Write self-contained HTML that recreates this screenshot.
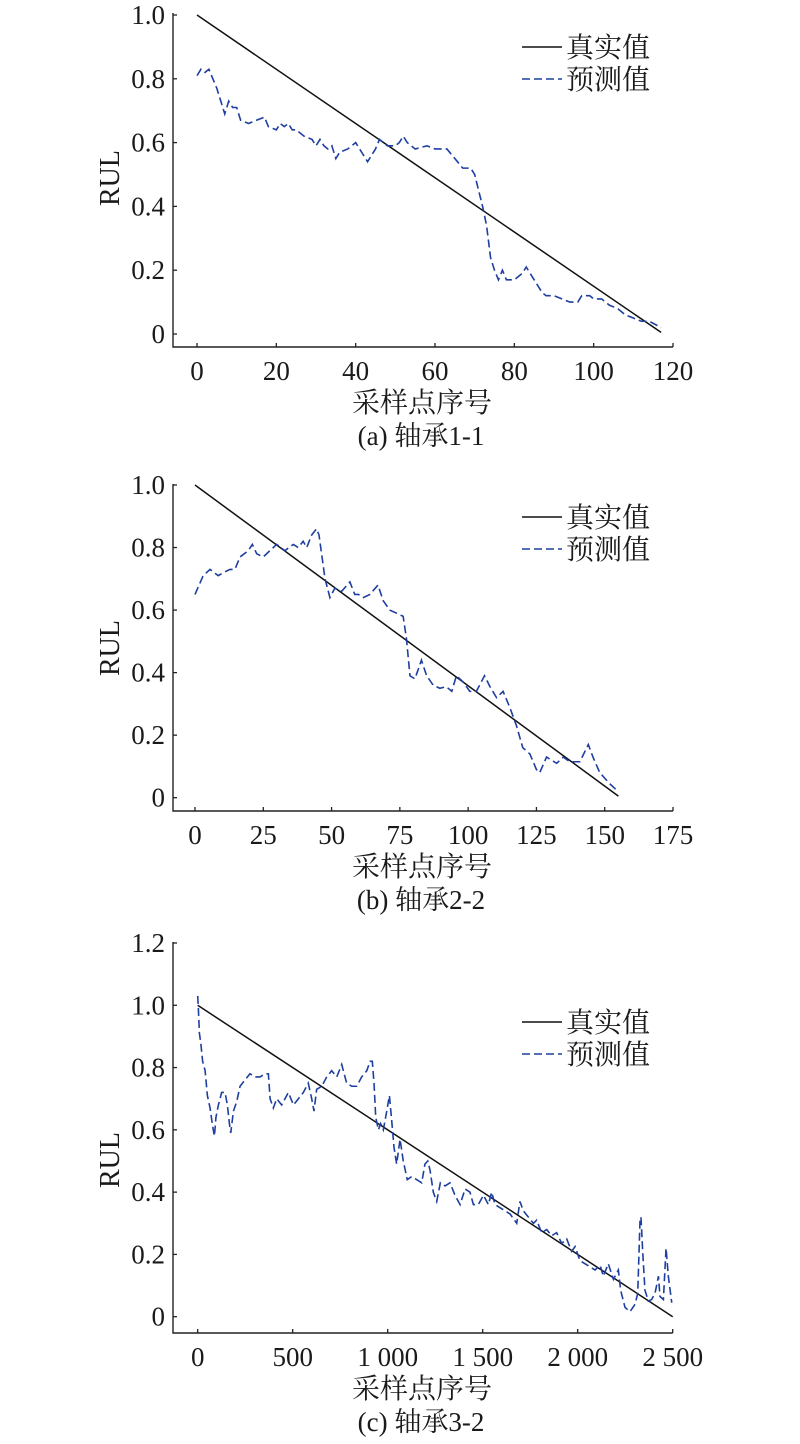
<!DOCTYPE html>
<html><head><meta charset="utf-8">
<style>
html,body{margin:0;padding:0;background:#fff;}
svg{display:block;}
text{font-family:"Liberation Serif","Noto Serif CJK SC","Noto Sans CJK SC",serif;fill:#1a1a1a;}
</style></head>
<body>
<svg id="chart" width="800" height="1444" viewBox="0 0 800 1444" xmlns="http://www.w3.org/2000/svg"></svg>
<script>
// Panel (a) data
const aXTicks = [0,20,40,60,80,100,120];
const aYTicks = [0,0.2,0.4,0.6,0.8,1.0];
const aYTickLabels = ["0","0.2","0.4","0.6","0.8","1.0"];
const aTrueX = [0,117];
const aTrueY = [1.0,0.005];
const aPredX = [0,1,2,3,5,7,8,9,10,11,13,15,17,18,20,21,22,23,24,25,27,29,30,31,32,33,34,35,36,38,40,42,43,45,46,48,50,51,52,53,55,58,60,62,63,65,67,68,69,70,72,73,74,75,76,77,78,80,82,83,84,85,87,88,90,92,94,96,97,99,100,102,104,106,108,110,112,114,117];
const aPredY = [0.81,0.83,0.82,0.83,0.77,0.69,0.73,0.71,0.71,0.67,0.66,0.67,0.68,0.65,0.64,0.66,0.65,0.66,0.64,0.64,0.62,0.61,0.59,0.61,0.59,0.58,0.59,0.55,0.57,0.58,0.60,0.56,0.54,0.58,0.61,0.59,0.59,0.60,0.62,0.60,0.58,0.59,0.58,0.58,0.58,0.55,0.52,0.52,0.52,0.50,0.40,0.34,0.24,0.20,0.17,0.20,0.17,0.17,0.19,0.21,0.19,0.17,0.13,0.12,0.12,0.11,0.10,0.10,0.12,0.12,0.11,0.11,0.09,0.08,0.06,0.05,0.04,0.04,0.02];

// Panel (b) data
const bXTicks = [0,25,50,75,100,125,150,175];
const bYTicks = [0,0.2,0.4,0.6,0.8,1.0];
const bYTickLabels = ["0","0.2","0.4","0.6","0.8","1.0"];
const bTrueX = [0,155];
const bTrueY = [1.0,0.005];
const bPredX = [0,3,5.5,8.5,10.4,12.8,14.6,16.5,19.5,21,22.6,25,27.4,29.9,32.9,36,37.8,39.6,40.9,42.7,44.5,45.4,47.6,49.4,51.2,53.7,56.7,58.5,59.8,61.6,64,67,68.9,71.3,73.8,76.2,77.4,78.7,80.5,82.9,84.8,87.2,89.6,92,94,95.7,98.2,100.6,103,106,108,110.4,112.8,115.2,117.7,120,122.6,125,126.2,128.7,132.4,134.8,137.2,140.9,144,145.7,148.2,151.8,154.9];
const bPredY = [0.65,0.71,0.73,0.71,0.72,0.73,0.73,0.77,0.79,0.81,0.78,0.77,0.79,0.81,0.79,0.81,0.80,0.82,0.80,0.84,0.86,0.84,0.70,0.64,0.67,0.66,0.69,0.65,0.65,0.64,0.65,0.68,0.63,0.60,0.59,0.58,0.51,0.39,0.38,0.44,0.39,0.36,0.35,0.355,0.34,0.39,0.37,0.34,0.34,0.39,0.355,0.32,0.34,0.29,0.23,0.16,0.14,0.09,0.08,0.13,0.11,0.13,0.115,0.115,0.17,0.13,0.08,0.045,0.02];

// Panel (c) data
const cXTicks = [0,500,1000,1500,2000,2500];
const cXTickLabels = ["0","500","1 000","1 500","2 000","2 500"];
const cYTicks = [0,0.2,0.4,0.6,0.8,1.0,1.2];
const cYTickLabels = ["0","0.2","0.4","0.6","0.8","1.0","1.2"];
const cTrueX = [0,2500];
const cTrueY = [1.0,0.0];
const cPredX = [0,3.5,9,16,26,39,51,65,79,88,96,109,126,144,156,167,174,188,205,223,249,275,302,328,354,372,381,398,416,442,477,504,530,556,582,600,612,626,653,679,705,732,758,784,811,837,863,890,907,919,928,937,951,963,977,995,1009,1021,1033,1047,1065,1082,1103,1126,1153,1179,1196,1211,1223,1240,1258,1277,1302,1328,1354,1381,1407,1433,1451,1477,1504,1530,1547,1565,1591,1618,1644,1679,1696,1714,1740,1767,1784,1810,1837,1863,1889,1916,1942,1968,1986,2012,2039,2065,2091,2118,2135,2161,2188,2214,2226,2249,2275,2302,2316,2328,2333,2342,2354,2372,2389,2407,2425,2433,2451,2465,2477,2495];
const cPredY = [1.03,0.99,0.91,0.88,0.82,0.79,0.71,0.67,0.61,0.58,0.64,0.68,0.72,0.72,0.68,0.62,0.59,0.66,0.69,0.74,0.76,0.78,0.77,0.77,0.78,0.78,0.70,0.67,0.70,0.68,0.72,0.68,0.70,0.72,0.75,0.70,0.66,0.73,0.74,0.77,0.79,0.77,0.81,0.75,0.74,0.74,0.77,0.79,0.82,0.82,0.75,0.64,0.60,0.62,0.60,0.66,0.71,0.63,0.545,0.49,0.57,0.50,0.44,0.45,0.44,0.43,0.49,0.50,0.47,0.40,0.37,0.43,0.42,0.43,0.39,0.36,0.41,0.40,0.36,0.36,0.39,0.36,0.40,0.36,0.35,0.34,0.33,0.30,0.37,0.34,0.32,0.30,0.31,0.27,0.28,0.26,0.27,0.235,0.25,0.21,0.225,0.18,0.17,0.16,0.15,0.165,0.13,0.17,0.12,0.15,0.085,0.03,0.016,0.04,0.075,0.31,0.32,0.21,0.085,0.05,0.055,0.075,0.13,0.065,0.055,0.22,0.13,0.045];

const NS = "http://www.w3.org/2000/svg";
const svg = document.getElementById("chart");
function mk(tag, attrs, parent){
  const e = document.createElementNS(NS, tag);
  for (const k in attrs) e.setAttribute(k, attrs[k]);
  (parent||svg).appendChild(e);
  return e;
}

function panel(cfg){
  const g = mk("g", {});
  
  
  const sx = v => cfg.x0px + (v - cfg.xmin) / (cfg.xmax - cfg.xmin) * (cfg.x1px - cfg.x0px);
  const sy = v => cfg.y0px - (v - 0) / (cfg.ymax - 0) * (cfg.y0px - cfg.y1px);
  const L = 173, B = cfg.bottom, T = cfg.top;
  const ax = mk("path", {d:`M${L},${T} L${L},${B} L${sx(cfg.xmax)},${B}`, fill:"none", stroke:"#222", "stroke-width":1.4}, g);
  
  
  cfg.yTicks.forEach((v,i)=>{
    const y = sy(v);
    const t = mk("line", {x1:L, y1:y, x2:L+4, y2:y, stroke:"#222", "stroke-width":1.3}, g);
    
    
    const lb = mk("text", {x:165, y:y+9, "text-anchor":"end", "font-size":27}, g);
    lb.textContent = cfg.yLabels[i];
    
    
  });
  cfg.xTicks.forEach((v,i)=>{
    const x = sx(v);
    const t = mk("line", {x1:x, y1:B, x2:x, y2:B-4, stroke:"#222", "stroke-width":1.3}, g);
    
    
    const lb = mk("text", {x:x, y:B+33, "text-anchor":"middle", "font-size":27}, g);
    lb.textContent = cfg.xLabels[i];
    
    
  });
  const tl = mk("polyline", {points: cfg.trueX.map((v,i)=>sx(v)+","+sy(cfg.trueY[i])).join(" "), fill:"none", stroke:"#111", "stroke-width":1.5}, g);
  
  
  const pl = mk("polyline", {points: cfg.predX.map((v,i)=>sx(v)+","+sy(cfg.predY[i])).join(" "), fill:"none", stroke:"#1f3fa0", "stroke-width":1.6, "stroke-dasharray":"8,4"}, g);
  
  
  const lg = mk("g", {}, g);
  
  
  const l1 = mk("line", {x1:522, y1:cfg.legY, x2:562, y2:cfg.legY, stroke:"#111", "stroke-width":1.5}, lg);
  
  
  const t1 = mk("text", {x:566, y:cfg.legY+10, "font-size":28}, lg);
  t1.textContent = "真实值";
  
  
  const l2 = mk("line", {x1:522, y1:cfg.legY+32, x2:562, y2:cfg.legY+32, stroke:"#1f3fa0", "stroke-width":1.5, "stroke-dasharray":"8,4"}, lg);
  
  
  const t2 = mk("text", {x:566, y:cfg.legY+42, "font-size":28}, lg);
  t2.textContent = "预测值";
  
  
  const yt = mk("text", {x:0, y:0, "font-size":28, "text-anchor":"middle", transform:`translate(119,${cfg.yTitleY}) rotate(-90)`}, g);
  yt.textContent = "RUL";
  
  
  const xt = mk("text", {x:422, y:B+65, "font-size":28, "text-anchor":"middle"}, g);
  xt.textContent = "采样点序号";
  
  
  const cp = mk("text", {x:421, y:B+98, "font-size":27, "text-anchor":"middle"}, g);
  cp.textContent = cfg.caption;
  
  
}

panel({name:"panel-a", xmin:0, xmax:120, x0px:197, x1px:673, ymax:1.0, y0px:334, y1px:15, top:13, bottom:347,
  xTicks:aXTicks, xLabels:aXTicks.map(String), yTicks:aYTicks, yLabels:aYTickLabels,
  trueX:aTrueX, trueY:aTrueY, predX:aPredX, predY:aPredY, legY:47, yTitleY:178, caption:"(a) 轴承1-1"});
panel({name:"panel-b", xmin:0, xmax:175, x0px:195, x1px:673, ymax:1.0, y0px:797.7, y1px:485, top:484, bottom:811,
  xTicks:bXTicks, xLabels:bXTicks.map(String), yTicks:bYTicks, yLabels:bYTickLabels,
  trueX:bTrueX, trueY:bTrueY, predX:bPredX, predY:bPredY, legY:517, yTitleY:648, caption:"(b) 轴承2-2"});
panel({name:"panel-c", xmin:0, xmax:2500, x0px:197.7, x1px:672.7, ymax:1.2, y0px:1316.7, y1px:943, top:942, bottom:1333,
  xTicks:cXTicks, xLabels:cXTickLabels, yTicks:cYTicks, yLabels:cYTickLabels,
  trueX:cTrueX, trueY:cTrueY, predX:cPredX, predY:cPredY, legY:1022, yTitleY:1160, caption:"(c) 轴承3-2"});
</script>
</body></html>
